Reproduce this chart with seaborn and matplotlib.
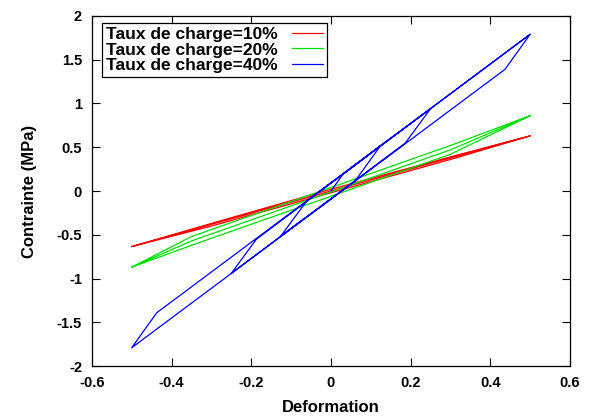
import pandas as pd
import numpy as np
import matplotlib
matplotlib.use('Agg')
import matplotlib.pyplot as plt
import seaborn as sns

# hysteresis loops (strain, stress in MPa)
strain_10 = [-0.5, -0.3, 0.0, 0.3, 0.5, 0.3, 0.0, -0.3, -0.5, 0.0, 0.5]
stress_10 = [-0.635, -0.37, 0.02, 0.39, 0.63, 0.36, -0.02, -0.40, -0.635, 0.0, 0.63]

strain_20 = [-0.5, -0.35, 0.3, 0.5, 0.3, -0.35, -0.5, -0.35, 0.3, 0.5]
stress_20 = [-0.87, -0.52, 0.52, 0.86, 0.42, -0.62, -0.87, -0.57, 0.47, 0.86]

strain_40 = [0.0, 0.03, 0.125, 0.06, -0.125, -0.06, 0.125,
             0.25, 0.187, -0.25, -0.187, 0.25, 0.5, 0.437, -0.5, -0.437, 0.5]
stress_40 = [0.0, 0.19, 0.52, 0.11, -0.51, -0.11, 0.52,
             0.94, 0.55, -0.94, -0.55, 0.94, 1.79, 1.39, -1.79, -1.39, 1.79]

labels = ['Taux de charge=10%', 'Taux de charge=20%', 'Taux de charge=40%']
colors = ['#ff0000', '#00e000', '#0000ff']

frames = []
for lab, xs, ys in zip(labels, [strain_10, strain_20, strain_40], [stress_10, stress_20, stress_40]):
    frames.append(pd.DataFrame({'Deformation': xs, 'Contrainte': ys, 'serie': lab}))
df = pd.concat(frames, ignore_index=True)

sns.set_style('ticks')
plt.rcParams['font.family'] = ['Liberation Sans', 'DejaVu Sans']
plt.rcParams['font.weight'] = 'bold'
for key in ['text.color', 'axes.labelcolor', 'xtick.color', 'ytick.color', 'axes.edgecolor']:
    plt.rcParams[key] = 'black'

fig = plt.figure(figsize=(6, 4.18), dpi=100)
ax = fig.add_axes([0.153, 0.124, 0.797, 0.838])

sns.lineplot(data=df, x='Deformation', y='Contrainte', hue='serie', sort=False,
             estimator=None, palette=dict(zip(labels, colors)), linewidth=0.9, ax=ax)

ax.set_xlim(-0.6, 0.6)
ax.set_ylim(-2, 2)
ax.set_xticks(np.arange(-0.6, 0.61, 0.2))
ax.set_xticklabels(['-0.6', '-0.4', '-0.2', '0', '0.2', '0.4', '0.6'])
ax.set_yticks(np.arange(-2, 2.01, 0.5))
ax.set_yticklabels(['-2', '-1.5', '-1', '-0.5', '0', '0.5', '1', '1.5', '2'])
ax.tick_params(direction='in', length=6, width=0.8, top=True, right=True,
               labelsize=10.5, pad=7, colors='black')
for lab in ax.get_xticklabels() + ax.get_yticklabels():
    lab.set_fontweight('bold')
for sp in ax.spines.values():
    sp.set_linewidth(0.9)
    sp.set_color('black')

ax.set_xlabel('Deformation', fontsize=12, fontweight='bold', labelpad=7)
ax.set_ylabel('Contrainte (MPa)', fontsize=12, fontweight='bold', labelpad=14)

handles, labs = ax.get_legend_handles_labels()
leg = ax.legend(handles, labs, loc='upper left', bbox_to_anchor=(0.021, 0.98),
                borderaxespad=0, markerfirst=False, fancybox=False, framealpha=1,
                edgecolor='black', labelspacing=0.0, borderpad=0.25,
                handlelength=1.8, handletextpad=0.8, prop={'weight': 'bold', 'size': 12.5})
leg.get_frame().set_linewidth(0.9)
for t in leg.get_texts():
    t.set_color('black')

fig.savefig('out.png', dpi=100)
